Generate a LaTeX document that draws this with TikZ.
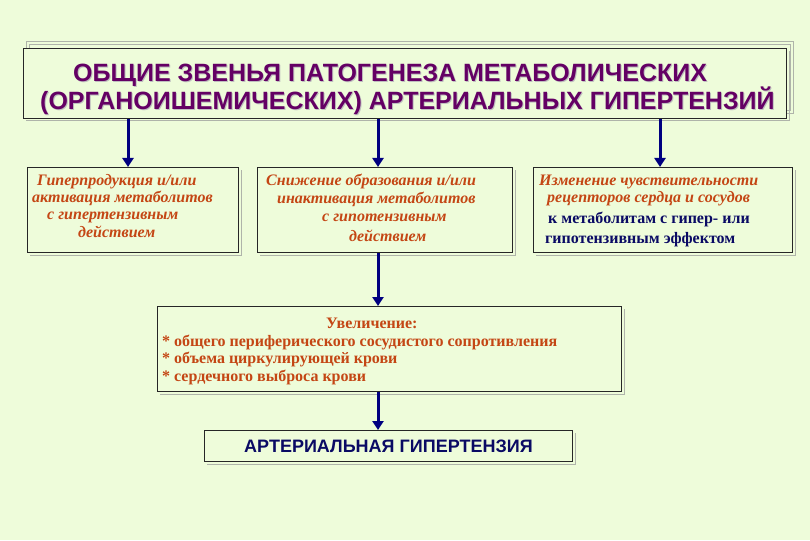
\documentclass[tikz,border=0pt]{standalone}
\usepackage{fontspec}
\setmainfont{Liberation Serif}
\setsansfont{Liberation Sans}
\usetikzlibrary{arrows.meta}
\definecolor{bg}{RGB}{238,252,218}
\definecolor{ttl}{RGB}{100,0,100}
\definecolor{org}{RGB}{196,70,20}
\definecolor{nav}{RGB}{10,10,100}
\definecolor{arr}{RGB}{0,0,128}
\definecolor{shd}{RGB}{175,180,170}
\begin{document}
\begin{tikzpicture}[x=1pt,y=-1pt,
  box/.style={draw=black!85,line width=0.9pt,fill=bg},
  shadowbox/.style={draw=shd,line width=1pt},
  arrowline/.style={draw=arr,line width=3pt,-{Triangle[length=9pt,width=11pt]}},
  itx/.style={font=\bfseries\itshape\fontsize{16}{18}\selectfont,text=org,anchor=base west,inner sep=0pt},
  btx/.style={font=\bfseries\fontsize{16}{18}\selectfont,text=org,anchor=base west,inner sep=0pt},
  ntx/.style={font=\bfseries\fontsize{16}{18}\selectfont,text=nav,anchor=base west,inner sep=0pt},
  ttx/.style={font=\sffamily\bfseries\fontsize{25}{28}\selectfont,text=ttl,anchor=base west,inner sep=0pt}]
\fill[bg] (0,0) rectangle (810,540);
\useasboundingbox (0,0) rectangle (810,540);
% title
\draw[shd,line width=0.6pt] (26,41) rectangle (793,113);
\draw[shd,line width=0.6pt] (29,44) rectangle (790,110);
\draw[shadowbox] (26,121) -- (789,121) -- (789,51);
\node[box,minimum width=763pt,minimum height=70pt,anchor=north west,inner sep=0pt] (title) at (23,48) {};
\node[ttx,text=black!25] at (74,83) {ОБЩИЕ  ЗВЕНЬЯ  ПАТОГЕНЕЗА  МЕТАБОЛИЧЕСКИХ};
\node[ttx] (t1) at (73,82) {ОБЩИЕ  ЗВЕНЬЯ  ПАТОГЕНЕЗА  МЕТАБОЛИЧЕСКИХ};
\node[ttx,text=black!25] at (41,111) {(ОРГАНОИШЕМИЧЕСКИХ) АРТЕРИАЛЬНЫХ  ГИПЕРТЕНЗИЙ};
\node[ttx] (t2) at (40,110) {(ОРГАНОИШЕМИЧЕСКИХ) АРТЕРИАЛЬНЫХ  ГИПЕРТЕНЗИЙ};
% box 1
\draw[shadowbox] (30,255) -- (241,255) -- (241,170);
\node[box,minimum width=211pt,minimum height=85pt,anchor=north west,inner sep=0pt] (b1) at (27,167) {};
\node[itx] at (37,185) {Гиперпродукция и/или};
\node[itx] at (32,202) {активация метаболитов};
\node[itx] at (47,219) {с гипертензивным};
\node[itx] at (78,237) {действием};
% box 2
\draw[shadowbox] (260,255) -- (515,255) -- (515,170);
\node[box,minimum width=255pt,minimum height=85pt,anchor=north west,inner sep=0pt] (b2) at (257,167) {};
\node[itx] at (266,185) {Снижение образования и/или};
\node[itx] at (277,203) {инактивация метаболитов};
\node[itx] at (322,221) {с гипотензивным};
\node[itx] at (349,241) {действием};
% box 3
\draw[shadowbox] (536,255) -- (795,255) -- (795,170);
\node[box,minimum width=259pt,minimum height=85pt,anchor=north west,inner sep=0pt] (b3) at (533,167) {};
\node[itx] at (539,185) {Изменение чувствительности};
\node[itx] at (547,202) {рецепторов сердца и сосудов};
\node[ntx] at (548,223) {к метаболитам с гипер- или};
\node[ntx] at (545,243) {гипотензивным эффектом};
% box 4
\draw[shadowbox] (160,394) -- (624,394) -- (624,309);
\node[box,minimum width=464pt,minimum height=85pt,anchor=north west,inner sep=0pt] (b4) at (157,306) {};
\node[btx] at (326,328) {Увеличение:};
\node[btx] at (162,346) {* общего периферического сосудистого сопротивления};
\node[btx] at (162,363) {* объема циркулирующей  крови};
\node[btx] at (162,381) {* сердечного выброса крови};
% box 5
\draw[shadowbox] (207,464) -- (575,464) -- (575,433);
\node[box,minimum width=368pt,minimum height=31pt,anchor=north west,inner sep=0pt] (b5) at (204,430) {};
\node[font=\sffamily\bfseries\fontsize{18}{20}\selectfont,text=nav,inner sep=0pt] at (b5.center) {АРТЕРИАЛЬНАЯ ГИПЕРТЕНЗИЯ};
% arrows
\draw[arrowline] (title.south -| 128,0) coordinate (a1s) -- (a1s |- b1.north);
\draw[arrowline] (title.south -| 378,0) coordinate (a2s) -- (a2s |- b2.north);
\draw[arrowline] (title.south -| 660,0) coordinate (a3s) -- (a3s |- b3.north);
\draw[arrowline] (b2.south -| 378,0) coordinate (a4s) -- (a4s |- b4.north);
\draw[arrowline] (b4.south -| 378,0) coordinate (a5s) -- (a5s |- b5.north);
\end{tikzpicture}
\end{document}
